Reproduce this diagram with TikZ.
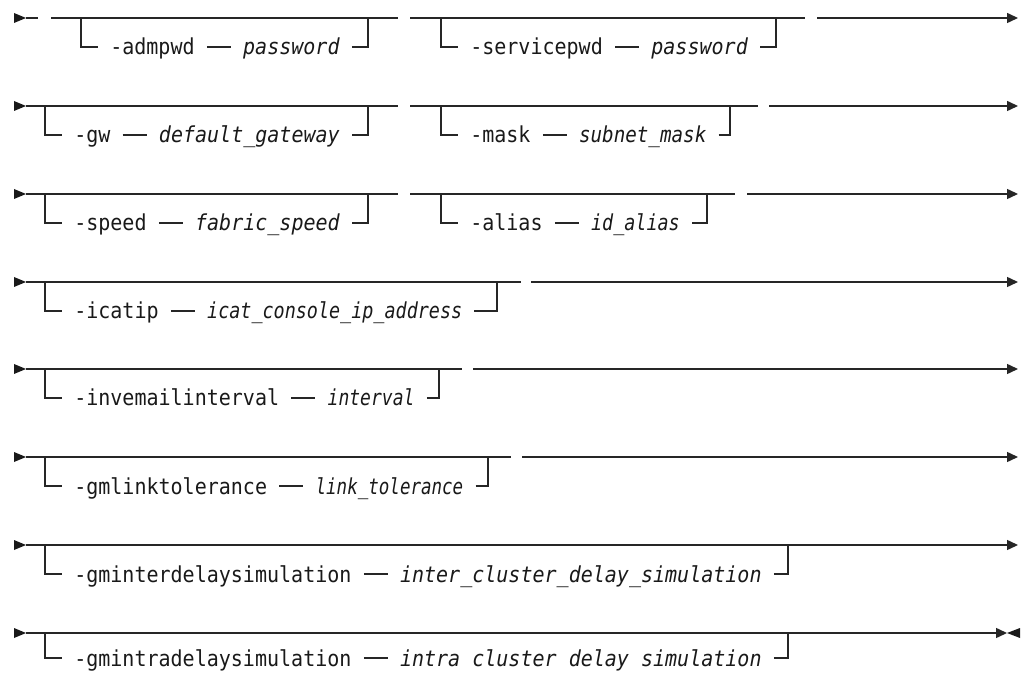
\documentclass[tikz,border=0pt]{standalone}
\usepackage{fontspec}
\usepackage{graphicx}
\setmonofont{DejaVu Sans Mono}[FakeStretch=0.91]
\usetikzlibrary{arrows.meta,positioning}
\tikzset{
  rail/.style={draw=black!85, line width=1.1pt},
  endtip/.style={-{Triangle[length=8.25pt,width=7.5pt]}},
  kw/.style={anchor=west, inner xsep=9pt, inner ysep=0pt, text height=12pt, text depth=0pt,
             font=\fontsize{16.5}{19}\selectfont\ttfamily, text=black!90},
  var/.style={kw, font=\fontsize{16.5}{19}\selectfont\ttfamily\itshape},
}
% [#1 drop of branch], #2 name, #3 line y, #4 left x, #5 right x, #6 keyword, #7 variable, #8 xscale of variable
\newcommand\railgrp[8][29]{%
  \coordinate (#2L) at (#4,#3);
  \coordinate (#2R) at (#5,#3);
  \node[kw] (#2k) at ([shift={(17,#1)}]#2L) {#6};
  \node[var, right=18pt of #2k] (#2v) {\scalebox{#8}[1]{#7}};
  \draw[rail] (#2L) |- (#2k.west);
  \draw[rail] (#2k) -- (#2v);
  \draw[rail] (#2v.east) -| (#2R);
}
\newcommand\railin[1]{%
  \fill[black!90] (14,{#1-5}) -- (26,#1) -- (14,{#1+5}) -- cycle;
}
\begin{document}
\begin{tikzpicture}[x=0.75pt,y=-0.75pt]
\useasboundingbox (0,0) rectangle (1024,673);
% Row 1
\railin{18}
\draw[rail] (26,18) -- (38,18);
\draw[rail] (51,18) -- (398,18);
\draw[rail] (410,18) -- (805,18);
\draw[rail,endtip] (817,18) -- (1018,18);
\railgrp{a}{18}{81}{368}{-admpwd}{password}{1}
\railgrp{b}{18}{441}{776}{-servicepwd}{password}{1}
% Row 2
\railin{106}
\draw[rail] (26,106) -- (398,106);
\draw[rail] (410,106) -- (758,106);
\draw[rail,endtip] (769,106) -- (1018,106);
\railgrp{c}{106}{45}{368}{-gw}{default\_gateway}{1}
\railgrp{d}{106}{441}{730}{-mask}{subnet\_mask}{0.96}
% Row 3
\railin{194}
\draw[rail] (26,194) -- (398,194);
\draw[rail] (410,194) -- (735,194);
\draw[rail,endtip] (747,194) -- (1018,194);
\railgrp{e}{194}{45}{368}{-speed}{fabric\_speed}{1}
\railgrp{f}{194}{441}{707}{-alias}{id\_alias}{0.92}
% Row 4
\railin{282}
\draw[rail] (26,282) -- (521,282);
\draw[rail,endtip] (531,282) -- (1018,282);
\railgrp{g}{282}{45}{497}{-icatip}{icat\_console\_ip\_address}{0.92}
% Row 5
\railin{369}
\draw[rail] (26,369) -- (462,369);
\draw[rail,endtip] (473,369) -- (1018,369);
\railgrp{h}{369}{45}{439}{-invemailinterval}{interval}{0.9}
% Row 6
\railin{457}
\draw[rail] (26,457) -- (511,457);
\draw[rail,endtip] (522,457) -- (1018,457);
\railgrp{i}{457}{45}{488}{-gmlinktolerance}{link\_tolerance}{0.875}
% Row 7
\railin{545}
\draw[rail,endtip] (26,545) -- (1018,545);
\railgrp{j}{545}{45}{788}{-gminterdelaysimulation}{inter\_cluster\_delay\_simulation}{1}
% Row 8
\railin{633}
\draw[rail,endtip] (26,633) -- (1007,633);
\fill[black!90] (1020,628) -- (1007,633) -- (1020,638) -- cycle;
\draw[rail] (793,632.4) -- (817,632.4);
\railgrp[25]{k}{633}{45}{788}{-gmintradelaysimulation}{intra cluster delay simulation}{1}
\end{tikzpicture}
\end{document}
